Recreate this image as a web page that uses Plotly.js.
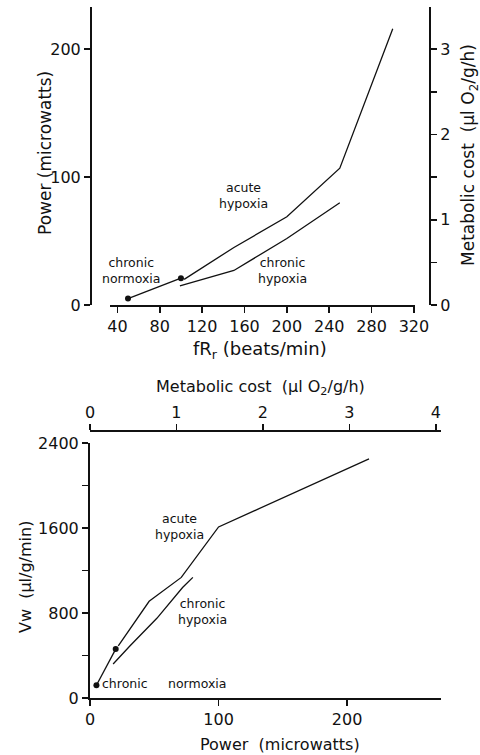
<!DOCTYPE html>
<html>
<head>
<meta charset="utf-8">
<script src="https://cdn.plot.ly/plotly-3.0.1.min.js"></script>
<style>html,body{margin:0;padding:0;background:#fff;}#chart{width:480px;height:755px;}</style>
</head>
<body>
<div id="chart"></div>
<script>
// ---- Top panel: heart rate (fRr) vs power ----
const fR_normoxia = [50, 100];
const power_normoxia_top = [5, 21];
const fR_acute = [103, 150, 200, 250, 300];
const power_acute_top = [20, 45, 69, 107, 216];
const fR_chronicHyp = [99, 150, 200, 250];
const power_chronicHyp_top = [15, 27, 52, 80];

// ---- Bottom panel: power vs ventilation (Vw) ----
const power_normoxia = [5, 20];
const vw_normoxia = [120, 460];
const power_acute = [22, 46, 71, 100, 217];
const vw_acute = [490, 910, 1135, 1610, 2250];
const power_chronicHyp = [18, 31, 52, 72, 80];
const vw_chronicHyp = [320, 490, 750, 1040, 1135];

// metabolic cost per unit power (secondary axis scale)
const costPerPower = 0.015;

// tick labels
const fRTicks = [40, 80, 120, 160, 200, 240, 280, 320];
const powerTicksTop = [0, 100, 200];
const costTicksRight = [0, 1, 2, 3];
const powerTicksBottom = [0, 100, 200];
const vwTicks = [0, 800, 1600, 2400];
const costTicksTop = [0, 1, 2, 3, 4];

const W = 480, H = 755;
const px = v => v / W;
const py = v => 1 - v / H;
const FONT = 'DejaVu Sans';
const ink = '#111';

const lineStyle = {color: ink, width: 1.3};

const traces = [
  {x: fR_normoxia, y: power_normoxia_top, xaxis: 'x', yaxis: 'y', mode: 'lines+markers',
   line: lineStyle, marker: {color: ink, size: 6}},
  {x: fR_acute, y: power_acute_top, xaxis: 'x', yaxis: 'y', mode: 'lines', line: lineStyle},
  {x: fR_chronicHyp, y: power_chronicHyp_top, xaxis: 'x', yaxis: 'y', mode: 'lines', line: lineStyle},
  // helper (invisible) to register right axis
  {x: fR_normoxia, y: power_normoxia_top.map(p => p * costPerPower), xaxis: 'x', yaxis: 'y2',
   mode: 'lines', line: {width: 0}, opacity: 0, hoverinfo: 'skip'},

  {x: power_normoxia, y: vw_normoxia, xaxis: 'x3', yaxis: 'y3', mode: 'lines+markers',
   line: lineStyle, marker: {color: ink, size: 6}},
  {x: power_acute, y: vw_acute, xaxis: 'x3', yaxis: 'y3', mode: 'lines', line: lineStyle},
  {x: power_chronicHyp, y: vw_chronicHyp, xaxis: 'x3', yaxis: 'y3', mode: 'lines', line: lineStyle},
  // helper (invisible) to register top axis
  {x: power_normoxia.map(p => p * costPerPower), y: vw_normoxia, xaxis: 'x4', yaxis: 'y3',
   mode: 'lines', line: {width: 0}, opacity: 0, hoverinfo: 'skip'}
];

const axBase = {
  showgrid: false, zeroline: false, showline: true, linecolor: ink, linewidth: 2,
  ticks: 'outside', tickcolor: ink, tickwidth: 1.6, ticklen: 6,
  tickfont: {family: FONT, size: 16, color: ink}, fixedrange: true
};

const layout = {
  width: W, height: H,
  margin: {l: 0, r: 0, t: 0, b: 0},
  paper_bgcolor: '#fff', plot_bgcolor: 'rgba(0,0,0,0)',
  showlegend: false,
  xaxis: Object.assign({}, axBase, {
    domain: [px(110), px(415)], range: [33, 321], anchor: 'y',
    tickmode: 'array', tickvals: fRTicks, ticktext: fRTicks.map(String)
  }),
  yaxis: Object.assign({}, axBase, {
    domain: [py(305), py(7)], range: [0, 233], anchor: 'free', position: px(91),
    tickmode: 'array', tickvals: powerTicksTop, ticktext: powerTicksTop.map(String)
  }),
  yaxis2: Object.assign({}, axBase, {
    overlaying: 'y', side: 'right', anchor: 'free', position: px(430),
    range: [0, 233 * costPerPower],
    tickmode: 'array', tickvals: costTicksRight, ticktext: costTicksRight.map(String),
    minor: {tickmode: 'array', tickvals: [0.5, 1.5, 2.5], ticks: 'outside', ticklen: 6, tickcolor: ink, tickwidth: 1.4}
  }),
  xaxis3: Object.assign({}, axBase, {
    domain: [px(90), px(441)], range: [0, 273], anchor: 'y3',
    tickmode: 'array', tickvals: powerTicksBottom, ticktext: powerTicksBottom.map(String)
  }),
  yaxis3: Object.assign({}, axBase, {
    domain: [py(698), py(443)], range: [0, 2400], anchor: 'x3',
    tickmode: 'array', tickvals: vwTicks, ticktext: vwTicks.map(String),
    minor: {tickmode: 'array', tickvals: [400, 1200, 2000], ticks: 'outside', ticklen: 6, tickcolor: ink, tickwidth: 1.4}
  }),
  xaxis4: Object.assign({}, axBase, {
    overlaying: 'x3', side: 'top', anchor: 'free', position: py(431),
    range: [0, 4.06],
    tickmode: 'array', tickvals: costTicksTop, ticktext: costTicksTop.map(String)
  }),
  annotations: []
};

function ann(text, x, y, opts) {
  layout.annotations.push(Object.assign({
    text: text, xref: 'paper', yref: 'paper', x: px(x), y: py(y),
    showarrow: false, xanchor: 'center', yanchor: 'middle',
    font: {family: FONT, size: 12.5, color: ink}
  }, opts || {}));
}

// axis titles
ann('Power (microwatts)', 45, 153, {textangle: -90, font: {family: FONT, size: 17, color: ink}});
ann('fR<sub>r</sub> (beats/min)', 260, 350, {font: {family: FONT, size: 18, color: ink}});
ann('Metabolic cost  (µl O<sub>2</sub>/g/h)', 470, 155, {textangle: -90, font: {family: FONT, size: 17, color: ink}});
ann('Metabolic cost  (µl O<sub>2</sub>/g/h)', 260, 387, {font: {family: FONT, size: 16, color: ink}});
ann('Vw  (µl/g/min)', 25, 577, {textangle: -90, font: {family: FONT, size: 16, color: ink}});
ann('Power  (microwatts)', 280, 744, {font: {family: FONT, size: 16, color: ink}});

// curve labels
ann('chronic<br>normoxia', 131, 270);
ann('acute<br>hypoxia', 243, 195);
ann('chronic<br>hypoxia', 282, 270);
ann('acute<br>hypoxia', 179, 526);
ann('chronic<br>hypoxia', 202, 611);
ann('chronic', 100, 683, {xanchor: 'left'});
ann('normoxia', 166, 683, {xanchor: 'left'});

Plotly.newPlot('chart', traces, layout, {displayModeBar: false, staticPlot: true});
</script>
</body>
</html>
